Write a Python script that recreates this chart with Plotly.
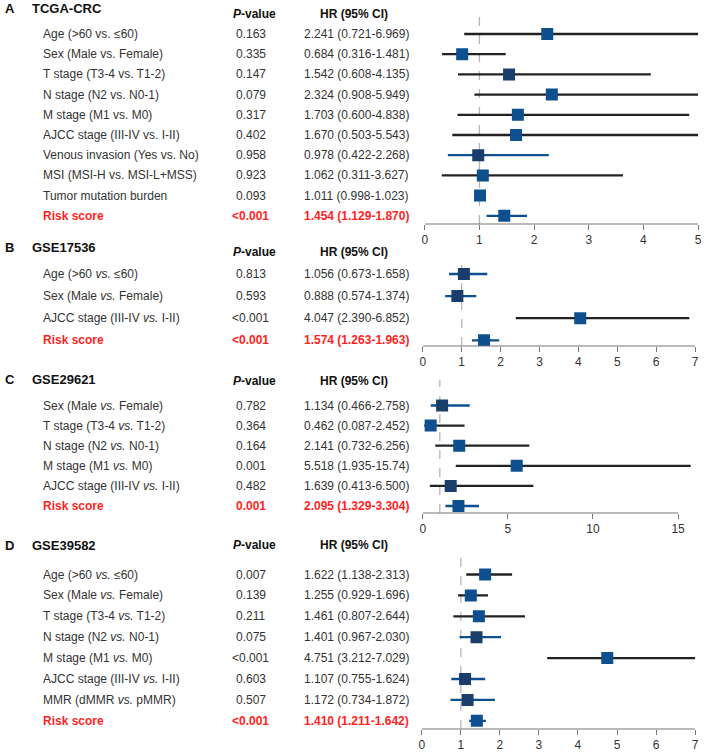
import plotly.graph_objects as go

# ---- data ----
a_labels = ["Age (>60 vs. ≤60)", "Sex (Male vs. Female)", "T stage (T3-4 vs. T1-2)",
            "N stage (N2 vs. N0-1)", "M stage (M1 vs. M0)", "AJCC stage (III-IV vs. I-II)",
            "Venous invasion (Yes vs. No)", "MSI (MSI-H vs. MSI-L+MSS)",
            "Tumor mutation burden", "Risk score"]
a_pval = ["0.163", "0.335", "0.147", "0.079", "0.317", "0.402", "0.958", "0.923", "0.093", "<0.001"]
a_hr = [2.241, 0.684, 1.542, 2.324, 1.703, 1.670, 0.978, 1.062, 1.011, 1.454]
a_lo = [0.721, 0.316, 0.608, 0.908, 0.600, 0.503, 0.422, 0.311, 0.998, 1.129]
a_hi = [6.969, 1.481, 4.135, 5.949, 4.838, 5.543, 2.268, 3.627, 1.023, 1.870]

b_labels = ["Age (>60 <i>vs.</i> ≤60)", "Sex (Male <i>vs.</i> Female)",
            "AJCC stage (III-IV <i>vs.</i> I-II)", "Risk score"]
b_pval = ["0.813", "0.593", "<0.001", "<0.001"]
b_hr = [1.056, 0.888, 4.047, 1.574]
b_lo = [0.673, 0.574, 2.390, 1.263]
b_hi = [1.658, 1.374, 6.852, 1.963]

c_labels = ["Sex (Male <i>vs.</i> Female)", "T stage (T3-4 <i>vs.</i> T1-2)",
            "N stage (N2 <i>vs.</i> N0-1)", "M stage (M1 <i>vs.</i> M0)",
            "AJCC stage (III-IV <i>vs.</i> I-II)", "Risk score"]
c_pval = ["0.782", "0.364", "0.164", "0.001", "0.482", "0.001"]
c_hr = [1.134, 0.462, 2.141, 5.518, 1.639, 2.095]
c_lo = [0.466, 0.087, 0.732, 1.935, 0.413, 1.329]
c_hi = [2.758, 2.452, 6.256, 15.74, 6.500, 3.304]

d_labels = ["Age (>60 <i>vs.</i> ≤60)", "Sex (Male <i>vs.</i> Female)",
            "T stage (T3-4 <i>vs.</i> T1-2)", "N stage (N2 <i>vs.</i> N0-1)",
            "M stage (M1 <i>vs.</i> M0)", "AJCC stage (III-IV <i>vs.</i> I-II)",
            "MMR (dMMR <i>vs.</i> pMMR)", "Risk score"]
d_pval = ["0.007", "0.139", "0.211", "0.075", "<0.001", "0.603", "0.507", "<0.001"]
d_hr = [1.622, 1.255, 1.461, 1.401, 4.751, 1.107, 1.172, 1.410]
d_lo = [1.138, 0.929, 0.807, 0.967, 3.212, 0.755, 0.734, 1.211]
d_hi = [2.313, 1.696, 2.644, 2.030, 7.029, 1.624, 1.872, 1.642]

W, H = 708, 753
FONT = "Liberation Sans, Arial, sans-serif"
BLUE, NAVY, BLK, RED = "#0d4f8f", "#1b3d6b", "#222222", "#ff1f1f"

# per panel: data + pixel geometry + which rows get blue CI lines / dark squares
panels = [
    dict(letter="A", name="TCGA-CRC", labels=a_labels, p=a_pval, hr=a_hr, lo=a_lo, hi=a_hi,
         title_y=9, head_y=14, top=9, row0=34, step=20.2, axis=224,
         x0=426, x1=702, rng=[0, 5], ticks=[0, 1, 2, 3, 4, 5],
         blue_rows=[6, 8, 9], dark_rows=[2, 6]),
    dict(letter="B", name="GSE17536", labels=b_labels, p=b_pval, hr=b_hr, lo=b_lo, hi=b_hi,
         title_y=248, head_y=252, top=257, row0=274, step=22.1, axis=346,
         x0=424, x1=699, rng=[0, 7], ticks=[0, 1, 2, 3, 4, 5, 6, 7],
         blue_rows=[0, 1, 3], dark_rows=[0, 1]),
    dict(letter="C", name="GSE29621", labels=c_labels, p=c_pval, hr=c_hr, lo=c_lo, hi=c_hi,
         title_y=379, head_y=381, top=380, row0=405.5, step=20.1, axis=513,
         x0=424, x1=699, rng=[0, 16], ticks=[0, 5, 10, 15],
         blue_rows=[0, 5], dark_rows=[0, 4]),
    dict(letter="D", name="GSE39582", labels=d_labels, p=d_pval, hr=d_hr, lo=d_lo, hi=d_hi,
         title_y=545, head_y=545, top=552, row0=574.5, step=20.9, axis=729,
         x0=423, x1=699, rng=[0, 7], ticks=[0, 1, 2, 3, 4, 5, 6, 7],
         blue_rows=[3, 5, 6, 7], dark_rows=[3, 5, 6]),
]


def py(px):
    return 1 - px / H


def pxx(px):
    return px / W


fig = go.Figure()
annotations = []
shapes = []

for k, pn in enumerate(panels):
    n = len(pn["labels"])
    sfx = "" if k == 0 else str(k + 1)
    xa, ya = "x" + sfx, "y" + sfx
    rows = list(range(n))

    # CI lines
    for color, sel in ((BLK, [i for i in rows if i not in pn["blue_rows"]]),
                       (BLUE, pn["blue_rows"])):
        xs, ys = [], []
        for i in sel:
            xs += [pn["lo"][i], pn["hi"][i], None]
            ys += [i, i, None]
        fig.add_trace(go.Scatter(x=xs, y=ys, mode="lines", xaxis=xa, yaxis=ya,
                                 line=dict(color=color, width=2.3), showlegend=False,
                                 hoverinfo="skip"))
    # squares
    fig.add_trace(go.Scatter(
        x=pn["hr"], y=rows, mode="markers", xaxis=xa, yaxis=ya, showlegend=False,
        marker=dict(symbol="square", size=12,
                    color=[NAVY if i in pn["dark_rows"] else BLUE for i in rows],
                    line=dict(width=0)),
        hovertemplate="HR %{x}<extra></extra>"))

    # axes
    ylo = (pn["axis"] - pn["row0"]) / pn["step"]
    yhi = (pn["top"] - pn["row0"]) / pn["step"]
    fig.layout["xaxis" + sfx] = dict(
        domain=[pxx(pn["x0"]), pxx(pn["x1"])], range=pn["rng"], anchor=ya,
        tickvals=pn["ticks"], ticks="outside", ticklen=5, tickcolor="#777",
        tickwidth=1, showline=False, showgrid=False, zeroline=False,
        ticklabeloverflow="allow",
        tickfont=dict(family=FONT, size=12, color="#333"), fixedrange=True)
    fig.layout["yaxis" + sfx] = dict(
        domain=[py(pn["axis"]), py(pn["top"])], range=[ylo, yhi], anchor=xa,
        visible=False, fixedrange=True)

    # axis line to last tick, dashed reference line at HR = 1
    shapes.append(dict(type="line", xref=xa, yref=ya + " domain", x0=0, x1=pn["ticks"][-1],
                       y0=0, y1=0, line=dict(color="#777", width=1.2)))
    shapes.append(dict(type="line", xref=xa, yref=ya + " domain", x0=1, x1=1,
                       y0=0, y1=1, line=dict(color="#b5b5b5", width=1.3, dash="dash"),
                       layer="below"))

    # headers
    annotations += [
        dict(text=f"<b>{pn['letter']}</b>", x=pxx(0), y=py(pn["title_y"]), xanchor="left",
             font=dict(size=13, color="#111")),
        dict(text=f"<b>{pn['name']}</b>", x=pxx(27), y=py(pn["title_y"]), xanchor="left",
             font=dict(size=13, color="#111")),
        dict(text="<b><i>P</i>-value</b>", x=pxx(254), y=py(pn["head_y"]), xanchor="center",
             font=dict(size=12, color="#111")),
        dict(text="<b>HR (95% CI)</b>", x=pxx(354), y=py(pn["head_y"]), xanchor="center",
             font=dict(size=12, color="#111")),
    ]
    for a in annotations[-4:]:
        a.update(xref="paper", yref="paper", yanchor="middle", showarrow=False)
        a["font"]["family"] = FONT

    # row texts
    for i in rows:
        risk = i == n - 1
        col = RED if risk else "#333"
        wrap = (lambda s: f"<b>{s}</b>") if risk else (lambda s: s)
        hr_txt = f"{pn['hr'][i]:.3f} ({pn['lo'][i]:.3f}-{pn['hi'][i]:.3f})"
        if pn["hi"][i] >= 10:
            hr_txt = f"{pn['hr'][i]:.3f} ({pn['lo'][i]:.3f}-{pn['hi'][i]:.2f})"
        for txt, xp, anc in ((pn["labels"][i], 38, "left"),
                             (pn["p"][i], 250, "center"),
                             (hr_txt, 412, "right")):
            annotations.append(dict(
                text=wrap(txt), xref="paper", yref=ya, x=pxx(xp), y=i, xanchor=anc,
                yanchor="middle", showarrow=False,
                font=dict(family=FONT, size=12, color=col)))

fig.update_layout(
    width=W, height=H, margin=dict(l=0, r=0, t=0, b=0),
    paper_bgcolor="white", plot_bgcolor="white",
    annotations=annotations, shapes=shapes, showlegend=False,
)

# drop the browser's default body margin so the figure fills the window exactly
fig.write_html("out.html", config={"displayModeBar": False},
               post_script="document.body.style.margin='0';")
